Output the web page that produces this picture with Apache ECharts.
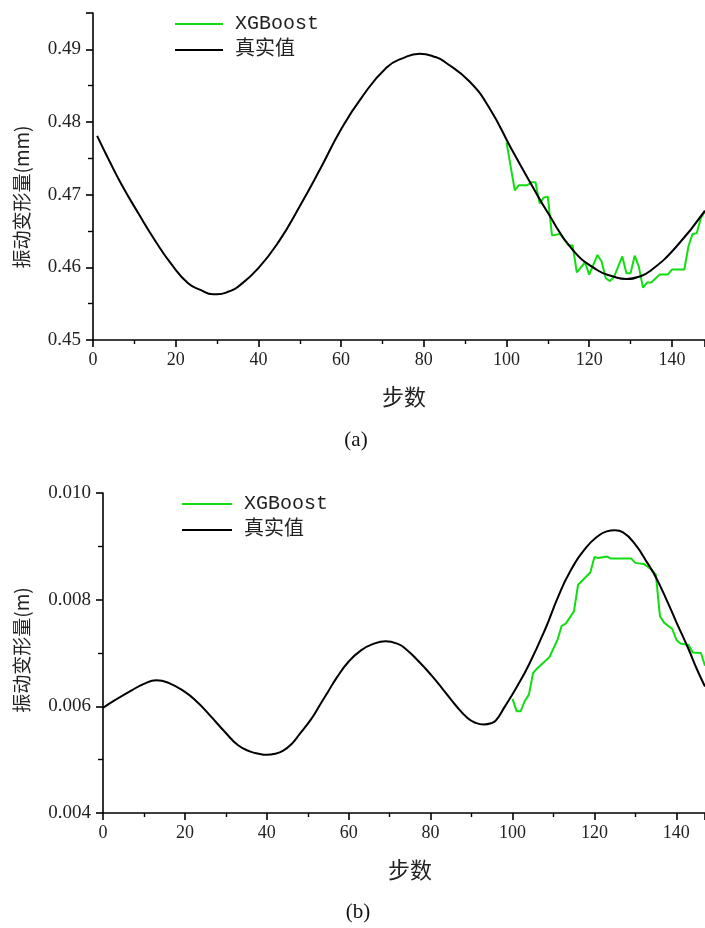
<!DOCTYPE html>
<html>
<head>
<meta charset="utf-8">
<script src="https://cdn.jsdelivr.net/npm/echarts@6/dist/echarts.min.js"></script>
<style>
html,body{margin:0;padding:0;background:#fff;}
#chart{width:705px;height:928px;}
</style>
</head>
<body>
<div id="chart"></div>
<script>
// ---------- Data ----------
var seriesNames = ['XGBoost', '真实值'];
var yNameA = '振动变形量(mm)';
var yNameB = '振动变形量(m)';
var xName = '步数';
var captionA = '(a)';
var captionB = '(b)';

// Panel (a): true values
var aTrueSteps = [1, 4, 7, 11, 15, 19, 23, 26, 29, 30, 33, 35, 40, 45, 50, 55, 60, 65, 71, 75, 79, 83, 85, 91, 96, 101, 106, 110, 116, 122, 126, 129, 132, 135, 141, 148];
var aTrueVals  = [0.4781, 0.4746, 0.4713, 0.4674, 0.4637, 0.4604, 0.4578, 0.4569, 0.4563, 0.4563, 0.4567, 0.4573, 0.4599, 0.4636, 0.4684, 0.4736, 0.4790, 0.4834, 0.4875, 0.4888, 0.4894, 0.4889, 0.4883, 0.4856, 0.4818, 0.4765, 0.4714, 0.4675, 0.4624, 0.4596, 0.4587, 0.4584, 0.4587, 0.4596, 0.4628, 0.4678];
// Panel (a): XGBoost predictions
var aPredSteps = [100, 102, 103, 105, 106, 107, 108, 109, 110, 111, 113, 115, 116, 117, 119, 120, 122, 123, 124, 125, 126, 128, 129, 130, 131, 132, 133, 134, 135, 137, 139, 140, 143, 144, 145, 146, 147, 148];
var aPredVals  = [0.4772, 0.4706, 0.4713, 0.4713, 0.4717, 0.4717, 0.4688, 0.4696, 0.4697, 0.4644, 0.4646, 0.4630, 0.4630, 0.4593, 0.4607, 0.4590, 0.4617, 0.4608, 0.4585, 0.4581, 0.4587, 0.4615, 0.4592, 0.4592, 0.4616, 0.4601, 0.4572, 0.4579, 0.4579, 0.4590, 0.4590, 0.4597, 0.4597, 0.4629, 0.4646, 0.4647, 0.4668, 0.4677];

// Panel (b): true values
var bTrueSteps = [0, 3, 7, 10, 13, 16, 20, 23, 26, 30, 33, 36, 38, 40, 42, 44, 46, 48, 51, 53, 55, 57, 60, 63, 66, 69, 72, 74, 77, 80, 83, 86, 89, 91, 93, 95, 96, 98, 101, 104, 108, 111, 114, 118, 121, 123, 125, 127, 130, 133, 135, 138, 140, 143, 145, 147];
var bTrueVals  = [0.00597, 0.00612, 0.00630, 0.00642, 0.00649, 0.00644, 0.00627, 0.00608, 0.00584, 0.00550, 0.00527, 0.00515, 0.00511, 0.00509, 0.00511, 0.00517, 0.00529, 0.00548, 0.00578, 0.00603, 0.00628, 0.00653, 0.00684, 0.00705, 0.00717, 0.00722, 0.00717, 0.00707, 0.00685, 0.00660, 0.00632, 0.00603, 0.00578, 0.00569, 0.00566, 0.00569, 0.00574, 0.00598, 0.00636, 0.00678, 0.00745, 0.00803, 0.00852, 0.00898, 0.00920, 0.00928, 0.00930, 0.00926, 0.00903, 0.00868, 0.00842, 0.00793, 0.00758, 0.00707, 0.00670, 0.00637];
// Panel (b): XGBoost predictions
var bPredSteps = [100, 101, 102, 103, 104, 105, 106, 109, 111, 112, 113, 115, 116, 119, 120, 121, 123, 124, 129, 130, 132, 134, 135, 136, 137, 139, 140, 141, 143, 144, 146, 147];
var bPredVals  = [0.00614, 0.00591, 0.00591, 0.00610, 0.00622, 0.00662, 0.00671, 0.00692, 0.00725, 0.00751, 0.00755, 0.00778, 0.00828, 0.00851, 0.00880, 0.00878, 0.00881, 0.00877, 0.00877, 0.00869, 0.00867, 0.00856, 0.00847, 0.00769, 0.00757, 0.00745, 0.00725, 0.00718, 0.00715, 0.00701, 0.00700, 0.00676];

// Axis ranges / ticks
var aX = {min: 0, max: 148, interval: 20};
var aY = {min: 0.45, max: 0.495, interval: 0.01};
var bX = {min: 0, max: 147, interval: 20};
var bY = {min: 0.004, max: 0.010, interval: 0.002};

function pairs(xs, ys) { return xs.map(function (x, i) { return [x, ys[i]]; }); }

var GREEN = '#11dd11';
var BLACK = '#000000';
var labelFont = 'Liberation Serif';
var cjkFont = '"Noto Sans CJK SC", sans-serif';

function xAxisCfg(r, gi) {
  return {
    type: 'value', gridIndex: gi, min: r.min, max: r.max, interval: r.interval,
    axisLine: {show: true, onZero: false, lineStyle: {color: '#000', width: 1.6}},
    axisTick: {show: true, length: 7, lineStyle: {color: '#000', width: 1.6}},
    minorTick: {show: true, splitNumber: 2, length: 4, lineStyle: {color: '#000', width: 1.4}},
    splitLine: {show: false},
    axisLabel: {color: '#222', fontFamily: labelFont, fontSize: 18, margin: 11, showMaxLabel: false}
  };
}
function yAxisCfg(r, gi, dec) {
  return {
    type: 'value', gridIndex: gi, min: r.min, max: r.max, interval: r.interval,
    axisLine: {show: true, onZero: false, lineStyle: {color: '#000', width: 1.6}},
    axisTick: {show: true, length: 7, lineStyle: {color: '#000', width: 1.6}},
    minorTick: {show: true, splitNumber: 2, length: 5, lineStyle: {color: '#000', width: 1.4}},
    splitLine: {show: false},
    axisLabel: {color: '#222', fontFamily: labelFont, fontSize: 19, margin: 12, showMaxLabel: dec === 3,
      formatter: function (v) { return v.toFixed(dec); }}
  };
}

var legendText = {fontFamily: '"Liberation Mono", "Noto Sans CJK SC"', fontSize: 20, color: '#222', padding: [0, 0, 0, 7]};

var chart = echarts.init(document.getElementById('chart'), null, {renderer: 'canvas'});
chart.setOption({
  backgroundColor: '#fff',
  animation: false,
  grid: [
    {left: 93, right: 0, top: 13, height: 327},
    {left: 103, right: 0, top: 493, height: 320}
  ],
  xAxis: [xAxisCfg(aX, 0), xAxisCfg(bX, 1)],
  yAxis: [yAxisCfg(aY, 0, 2), yAxisCfg(bY, 1, 3)],
  legend: [
    {orient: 'vertical', left: 175, top: 14, icon: 'rect', itemWidth: 48, itemHeight: 2, itemGap: 6, padding: 0,
     data: seriesNames, textStyle: legendText},
    {orient: 'vertical', left: 182, top: 494, icon: 'rect', itemWidth: 50, itemHeight: 2, itemGap: 6, padding: 0,
     data: seriesNames, textStyle: legendText}
  ],
  series: [
    {name: seriesNames[0], type: 'line', xAxisIndex: 0, yAxisIndex: 0, data: pairs(aPredSteps, aPredVals),
     symbol: 'none', lineStyle: {color: GREEN, width: 2}, itemStyle: {color: GREEN}},
    {name: seriesNames[1], type: 'line', xAxisIndex: 0, yAxisIndex: 0, data: pairs(aTrueSteps, aTrueVals),
     symbol: 'none', smooth: 0.5, lineStyle: {color: BLACK, width: 2}, itemStyle: {color: BLACK}},
    {name: seriesNames[0], type: 'line', xAxisIndex: 1, yAxisIndex: 1, data: pairs(bPredSteps, bPredVals),
     symbol: 'none', lineStyle: {color: GREEN, width: 2}, itemStyle: {color: GREEN}},
    {name: seriesNames[1], type: 'line', xAxisIndex: 1, yAxisIndex: 1, data: pairs(bTrueSteps, bTrueVals),
     symbol: 'none', smooth: 0.5, lineStyle: {color: BLACK, width: 2}, itemStyle: {color: BLACK}}
  ],
  graphic: [
    {type: 'text', x: 22, y: 197, rotation: Math.PI / 2,
     style: {text: yNameA, fontFamily: cjkFont, fontSize: 19, fill: '#222', align: 'center', verticalAlign: 'middle'}},
    {type: 'text', x: 22, y: 650, rotation: Math.PI / 2,
     style: {text: yNameB, fontFamily: cjkFont, fontSize: 19, fill: '#222', align: 'center', verticalAlign: 'middle'}},
    {type: 'text', x: 404, y: 397,
     style: {text: xName, fontFamily: cjkFont, fontSize: 22, fill: '#222', align: 'center', verticalAlign: 'middle'}},
    {type: 'text', x: 410, y: 870,
     style: {text: xName, fontFamily: cjkFont, fontSize: 22, fill: '#222', align: 'center', verticalAlign: 'middle'}},
    {type: 'text', x: 356, y: 440,
     style: {text: captionA, fontFamily: labelFont, fontSize: 21, fill: '#111', align: 'center', verticalAlign: 'middle'}},
    {type: 'text', x: 358, y: 912,
     style: {text: captionB, fontFamily: labelFont, fontSize: 21, fill: '#111', align: 'center', verticalAlign: 'middle'}}
  ]
});
</script>
</body>
</html>
